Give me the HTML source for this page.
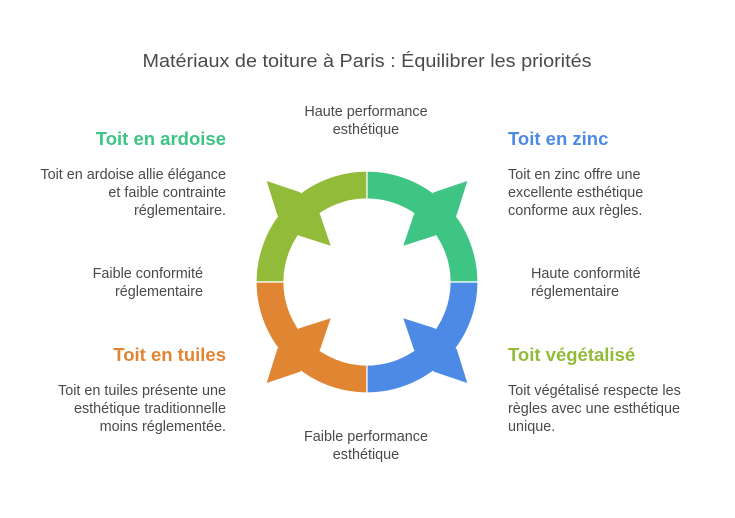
<!DOCTYPE html>
<html><head><meta charset="utf-8"><style>
html,body{margin:0;padding:0;background:#fff;}
svg{display:block;font-family:"Liberation Sans",sans-serif;}
.t{font-size:14.4px;fill:#4a4a4a;}
.h{font-size:18.5px;font-weight:bold;}
</style></head><body>
<svg width="735" height="518" viewBox="0 0 735 518">
<text x="367" y="67" text-anchor="middle" font-size="18.5" fill="#4a4a4a" textLength="449" lengthAdjust="spacingAndGlyphs">Matériaux de toiture à Paris : Équilibrer les priorités</text>
<g stroke="#fff" stroke-width="1.2">
<g fill="#93bb3a">
<path d="M367,171 A111,111 0 0 0 256,282 L284,282 A83,83 0 0 1 367,199 Z"/>
<polygon points="266.7,181 300,192.3 320,214.3 330.7,245.7 299.3,235.7 277.3,215" stroke="none"/>
</g>
<g fill="#3ec483">
<path d="M367,171 A111,111 0 0 1 478,282 L450,282 A83,83 0 0 0 367,199 Z"/>
<polygon points="467.3,181 434,192.3 414,214.3 403.3,245.7 434.7,235.7 456.7,215" stroke="none"/>
</g>
<g fill="#e08632">
<path d="M367,393 A111,111 0 0 1 256,282 L284,282 A83,83 0 0 0 367,365 Z"/>
<polygon points="266.7,383 300,371.7 320,349.7 330.7,318.3 299.3,328.3 277.3,349" stroke="none"/>
</g>
<g fill="#4d8ae6">
<path d="M367,393 A111,111 0 0 0 478,282 L450,282 A83,83 0 0 1 367,365 Z"/>
<polygon points="467.3,383 434,371.7 414,349.7 403.3,318.3 434.7,328.3 456.7,349" stroke="none"/>
</g>
</g>
<text x="226" y="145" text-anchor="end" class="h" fill="#3ec483">Toit en ardoise</text>
<text x="226" y="179" text-anchor="end" class="t">Toit en ardoise allie élégance</text>
<text x="226" y="197" text-anchor="end" class="t">et faible contrainte</text>
<text x="226" y="215" text-anchor="end" class="t">réglementaire.</text>
<text x="203" y="278" text-anchor="end" class="t">Faible conformité</text>
<text x="203" y="296" text-anchor="end" class="t">réglementaire</text>
<text x="226" y="361" text-anchor="end" class="h" fill="#e08632">Toit en tuiles</text>
<text x="226" y="395" text-anchor="end" class="t">Toit en tuiles présente une</text>
<text x="226" y="413" text-anchor="end" class="t">esthétique traditionnelle</text>
<text x="226" y="431" text-anchor="end" class="t">moins réglementée.</text>
<text x="508" y="145" class="h" fill="#4d8ae6">Toit en zinc</text>
<text x="508" y="179" class="t">Toit en zinc offre une</text>
<text x="508" y="197" class="t">excellente esthétique</text>
<text x="508" y="215" class="t">conforme aux règles.</text>
<text x="531" y="278" class="t">Haute conformité</text>
<text x="531" y="296" class="t">réglementaire</text>
<text x="508" y="361" class="h" fill="#93bb3a">Toit végétalisé</text>
<text x="508" y="395" class="t">Toit végétalisé respecte les</text>
<text x="508" y="413" class="t">règles avec une esthétique</text>
<text x="508" y="431" class="t">unique.</text>
<text x="366" y="116" text-anchor="middle" class="t">Haute performance</text>
<text x="366" y="134" text-anchor="middle" class="t">esthétique</text>
<text x="366" y="441" text-anchor="middle" class="t">Faible performance</text>
<text x="366" y="459" text-anchor="middle" class="t">esthétique</text>
</svg>
</body></html>
